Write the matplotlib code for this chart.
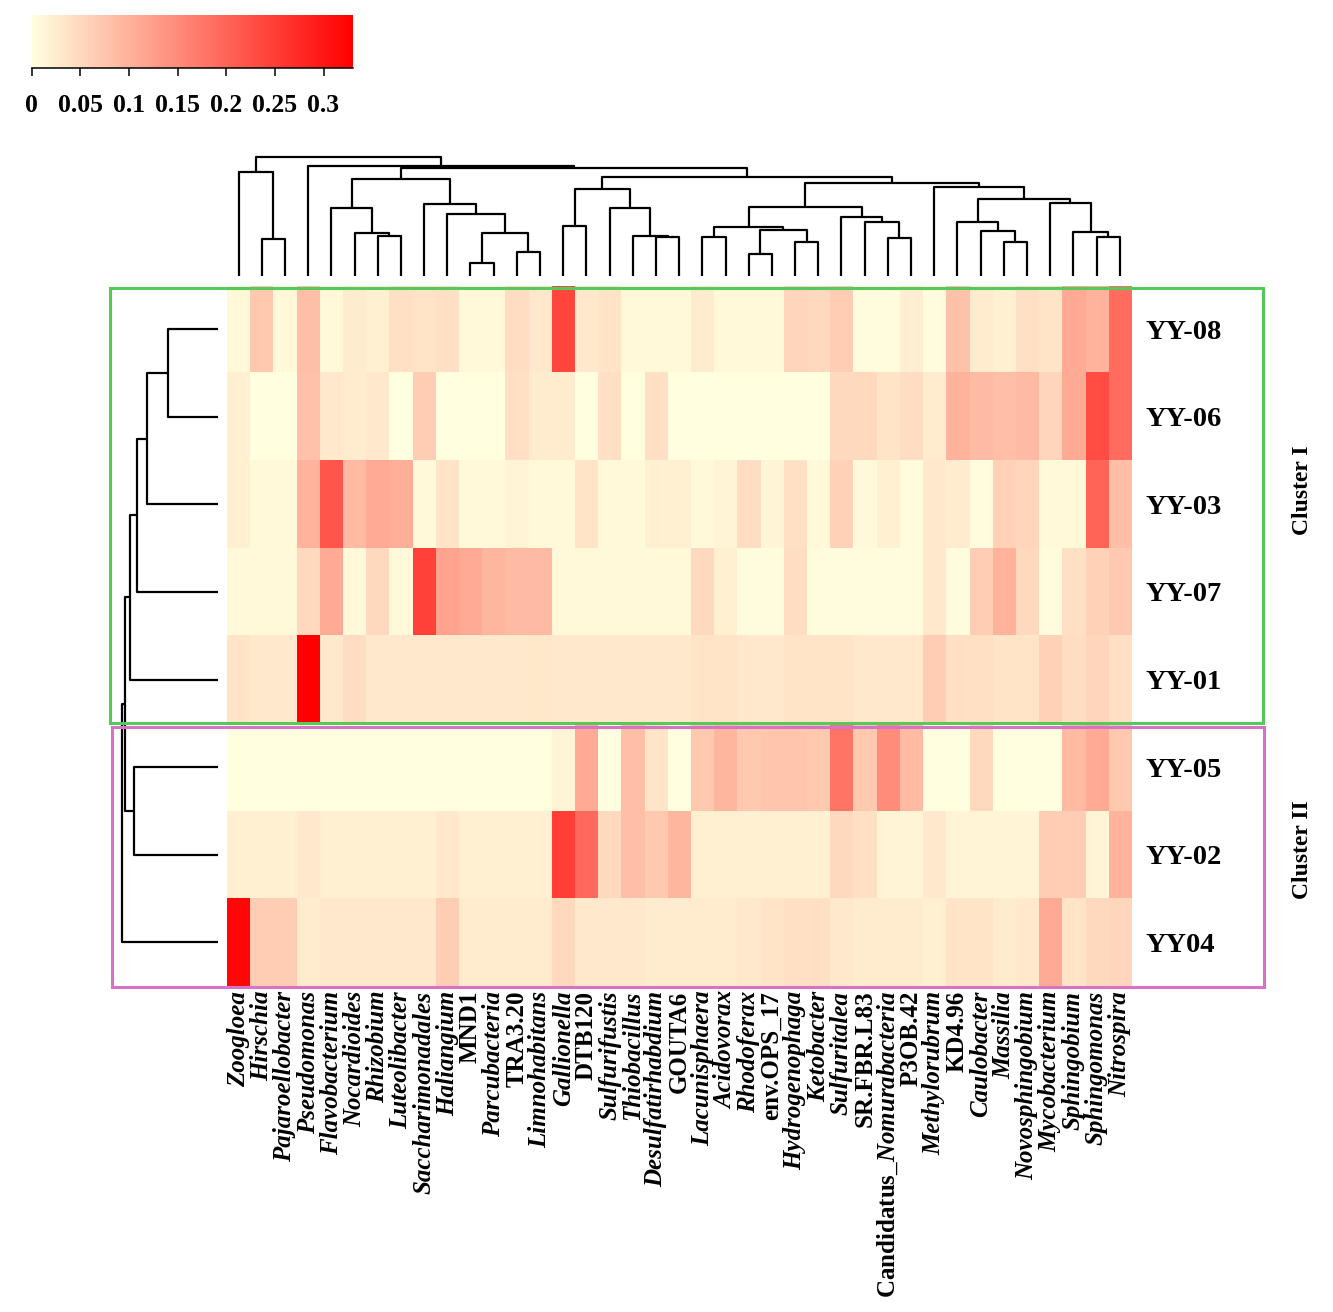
import matplotlib
matplotlib.use("Agg")
import matplotlib.pyplot as plt
import numpy as np
from matplotlib.colors import LinearSegmentedColormap
from matplotlib.patches import Rectangle

plt.rcParams['font.family'] = ['Liberation Serif', 'DejaVu Serif']
plt.rcParams['font.weight'] = 'bold'
plt.rcParams['mathtext.fontset'] = 'custom'
plt.rcParams['mathtext.rm'] = 'Liberation Serif:bold'
plt.rcParams['mathtext.it'] = 'Liberation Serif:italic:bold'

# ---- data ----
genera = ['Zoogloea', 'Hirschia', 'Pajaroellobacter', 'Pseudomonas', 'Flavobacterium',
          'Nocardioides', 'Rhizobium', 'Luteolibacter', 'Saccharimonadales', 'Haliangium',
          'MND1', 'Parcubacteria', 'TRA3.20', 'Limnohabitans', 'Gallionella', 'DTB120',
          'Sulfurifustis', 'Thiobacillus', 'Desulfatirhabdium', 'GOUTA6', 'Lacunisphaera',
          'Acidovorax', 'Rhodoferax', 'env.OPS_17', 'Hydrogenophaga', 'Ketobacter',
          'Sulfuritalea', 'SR.FBR.L83', 'Candidatus_Nomurabacteria', 'P3OB.42',
          'Methylorubrum', 'KD4.96', 'Caulobacter', 'Massilia', 'Novosphingobium',
          'Mycobacterium', 'Sphingobium', 'Sphingomonas', 'Nitrospira']
upright = ['MND1', 'TRA3.20', 'DTB120', 'GOUTA6', 'env.OPS_17', 'SR.FBR.L83', 'P3OB.42', 'KD4.96']

samples = ['YY-08', 'YY-06', 'YY-03', 'YY-07', 'YY-01', 'YY-05', 'YY-02', 'YY04']

yy08 = [0.01, 0.07, 0.01, 0.085, 0.01, 0.025, 0.02, 0.04, 0.035, 0.04, 0.01, 0.01, 0.045, 0.03,
        0.24, 0.03, 0.035, 0.01, 0.01, 0.01, 0.025, 0.01, 0.01, 0.01, 0.055, 0.05, 0.065, 0.005,
        0.005, 0.022, 0.005, 0.08, 0.025, 0.02, 0.04, 0.035, 0.11, 0.1, 0.19]
yy06 = [0.02, 0.0, 0.0, 0.08, 0.03, 0.025, 0.03, 0.0, 0.065, 0.0, 0.0, 0.0, 0.04, 0.025,
        0.025, 0.0, 0.04, 0.0, 0.04, 0.0, 0.0, 0.0, 0.0, 0.0, 0.0, 0.0, 0.05, 0.05,
        0.035, 0.045, 0.025, 0.1, 0.09, 0.085, 0.09, 0.055, 0.11, 0.23, 0.19]
yy03 = [0.02, 0.01, 0.01, 0.1, 0.22, 0.09, 0.11, 0.105, 0.01, 0.035, 0.01, 0.01, 0.015, 0.01,
        0.01, 0.035, 0.01, 0.01, 0.02, 0.02, 0.01, 0.015, 0.045, 0.015, 0.04, 0.01, 0.06, 0.01,
        0.02, 0.005, 0.03, 0.025, 0.005, 0.06, 0.055, 0.01, 0.01, 0.2, 0.085]
yy07 = [0.01, 0.01, 0.01, 0.05, 0.11, 0.01, 0.05, 0.01, 0.245, 0.12, 0.11, 0.095, 0.09, 0.09,
        0.01, 0.01, 0.01, 0.01, 0.01, 0.01, 0.05, 0.02, 0.005, 0.005, 0.045, 0.005, 0.005, 0.005,
        0.005, 0.005, 0.03, 0.005, 0.065, 0.1, 0.05, 0.005, 0.04, 0.06, 0.07]
yy01 = [0.035, 0.03, 0.03, 0.33, 0.03, 0.045, 0.03, 0.03, 0.03, 0.03, 0.03, 0.03, 0.03, 0.032,
        0.03, 0.03, 0.03, 0.03, 0.03, 0.03, 0.035, 0.035, 0.03, 0.03, 0.035, 0.035, 0.035, 0.03,
        0.03, 0.03, 0.065, 0.04, 0.04, 0.035, 0.035, 0.06, 0.045, 0.055, 0.04]
yy05 = [0.0, 0.0, 0.0, 0.0, 0.0, 0.0, 0.0, 0.0, 0.0, 0.0, 0.0, 0.0, 0.0, 0.0,
        0.015, 0.11, 0.0, 0.085, 0.035, 0.0, 0.07, 0.095, 0.07, 0.075, 0.075, 0.07, 0.18, 0.07,
        0.15, 0.09, 0.0, 0.0, 0.05, 0.0, 0.0, 0.0, 0.09, 0.11, 0.07]
yy02 = [0.02, 0.02, 0.02, 0.03, 0.02, 0.02, 0.02, 0.02, 0.02, 0.03, 0.02, 0.02, 0.02, 0.02,
        0.25, 0.195, 0.05, 0.085, 0.07, 0.095, 0.02, 0.02, 0.02, 0.02, 0.02, 0.02, 0.05, 0.04,
        0.015, 0.015, 0.03, 0.015, 0.015, 0.015, 0.015, 0.065, 0.065, 0.015, 0.1]
yy04 = [0.32, 0.065, 0.065, 0.025, 0.03, 0.03, 0.03, 0.03, 0.03, 0.065, 0.025, 0.025, 0.025, 0.025,
        0.05, 0.03, 0.03, 0.03, 0.025, 0.025, 0.025, 0.025, 0.03, 0.035, 0.04, 0.04, 0.03, 0.025,
        0.025, 0.025, 0.02, 0.035, 0.035, 0.025, 0.03, 0.11, 0.035, 0.05, 0.055]

# linkage: (child a, child b, height); leaves are 0..n-1, new clusters n, n+1, ...
col_merges = [(1, 2, 37), (0, 39, 104.3), (6, 7, 40.3), (5, 41, 43.3), (4, 42, 68.3),
              (10, 11, 13.3), (12, 13, 24.3), (44, 45, 43.3), (9, 46, 62), (8, 47, 72),
              (43, 48, 97), (14, 15, 50), (18, 19, 39.3), (17, 51, 40.3), (16, 52, 67.7),
              (50, 53, 86.7), (20, 21, 39.3), (22, 23, 22.3), (24, 25, 34.3), (56, 57, 46),
              (55, 58, 49.3), (28, 29, 38.3), (27, 60, 54.3), (26, 61, 59.3), (59, 62, 69.3),
              (33, 34, 34.3), (32, 64, 45.3), (31, 65, 54.3), (37, 38, 39.3), (36, 67, 44.3),
              (35, 68, 72.7), (66, 69, 77), (30, 70, 89.3), (63, 71, 92.7), (54, 72, 99.3),
              (49, 73, 107.7), (3, 74, 110), (40, 75, 118.7)]
row_merges = [(0, 1, 50), (2, 8, 71), (3, 9, 81.3), (4, 10, 88), (5, 6, 84.3),
              (11, 12, 93), (7, 13, 96.3)]

vmax = 0.33
cbar_ticks = [0, 0.05, 0.1, 0.15, 0.2, 0.25, 0.3]
cbar_labels = ['0', '0.05', '0.1', '0.15', '0.2', '0.25', '0.3']

values = np.array([yy08, yy06, yy03, yy07, yy01, yy05, yy02, yy04])
cmap = LinearSegmentedColormap.from_list('ly_red', ['#FFFFE0', '#FF0000'])

W, H = 1333, 1312
fig = plt.figure(figsize=(W / 100, H / 100), dpi=100)


def px_box(x0, y0, x1, y1):
    return [x0 / W, 1 - y1 / H, (x1 - x0) / W, (y1 - y0) / H]


def dendro_segments(merges, n):
    pos = [float(i) for i in range(n)]
    hgt = [0.0] * n
    segs = []
    for a, b, h in merges:
        segs.append(([pos[a], pos[a], pos[b], pos[b]], [hgt[a], h, h, hgt[b]]))
        pos.append((pos[a] + pos[b]) / 2)
        hgt.append(h)
    return segs


# heatmap
ax = fig.add_axes(px_box(227, 285.5, 1131.3, 986))
ax.imshow(values, cmap=cmap, vmin=0, vmax=vmax, aspect='auto', interpolation='nearest')
for s in ax.spines.values():
    s.set_visible(False)
ax.set_xticks(range(len(genera)))
xlabels = []
for g in genera:
    if g == 'Candidatus_Nomurabacteria':
        xlabels.append(r'$\mathrm{Candidatus\_}\mathit{Nomurabacteria}$')
    else:
        xlabels.append(g)
ax.set_xticklabels(xlabels, rotation=90, fontsize=18, fontweight='bold')
for t, g in zip(ax.get_xticklabels(), genera):
    if g not in upright and g != 'Candidatus_Nomurabacteria':
        t.set_fontstyle('italic')
ax.set_yticks(range(len(samples)))
ax.set_yticklabels(samples, fontsize=20.5, fontweight='bold')
ax.yaxis.tick_right()
ax.tick_params(axis='both', length=0)
ax.tick_params(axis='x', pad=3.5)
ax.tick_params(axis='y', pad=10.5)

# column dendrogram
axt = fig.add_axes(px_box(227, 157.3, 1131.3, 276))
for xs, ys in dendro_segments(col_merges, len(genera)):
    axt.plot(xs, ys, color='black', lw=1.6, clip_on=False, solid_capstyle='butt')
axt.set_xlim(-0.5, len(genera) - 0.5)
axt.set_ylim(0, 118.7)
axt.axis('off')

# row dendrogram
axl = fig.add_axes(px_box(121.7, 285.5, 218.3, 986))
for ys, xs in dendro_segments(row_merges, len(samples)):
    axl.plot(xs, ys, color='black', lw=1.6, clip_on=False, solid_capstyle='butt')
axl.set_ylim(len(samples) - 0.5, -0.5)
axl.set_xlim(96.3, 0)
axl.axis('off')

# colour key
axc = fig.add_axes(px_box(31.7, 15, 352.7, 68.3))
axc.imshow(np.linspace(0, vmax, 256)[None, :], cmap=cmap, vmin=0, vmax=vmax,
           extent=[0, vmax, 0, 1], aspect='auto')
axc.set_xlim(0, vmax)
axc.set_yticks([])
axc.set_xticks(cbar_ticks)
axc.set_xticklabels(cbar_labels, fontsize=18.5, fontweight='bold')
axc.tick_params(axis='x', length=5.8, width=1.1, pad=13)
for side in ['top', 'left', 'right']:
    axc.spines[side].set_visible(False)
axc.spines['bottom'].set_linewidth(1.1)

# cluster boxes
fig.add_artist(Rectangle((110 / W, 1 - 723 / H), (1263 - 110) / W, (723 - 288) / H,
                         transform=fig.transFigure, fill=False, ec='#55C95A', lw=2.2))
fig.add_artist(Rectangle((112 / W, 1 - 987 / H), (1264 - 112) / W, (987 - 727) / H,
                         transform=fig.transFigure, fill=False, ec='#D872C8', lw=2.2))
fig.text(1302 / W, 1 - 490 / H, 'Cluster I', rotation=90, ha='center', va='center',
         fontsize=17, fontweight='bold')
fig.text(1302 / W, 1 - 850 / H, 'Cluster II', rotation=90, ha='center', va='center',
         fontsize=17, fontweight='bold')

fig.savefig('out.png', dpi=100)
